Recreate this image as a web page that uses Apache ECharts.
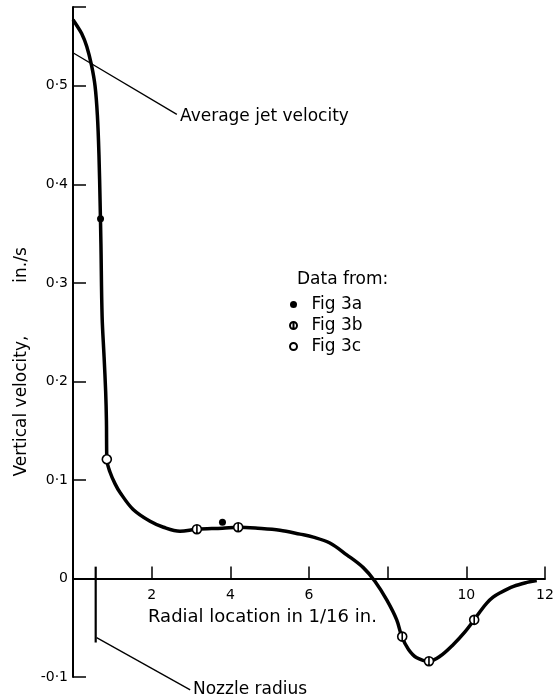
<!DOCTYPE html>
<html>
<head>
<meta charset="utf-8">
<script src="https://cdn.jsdelivr.net/npm/echarts@6/dist/echarts.min.js"></script>
<style>
  html, body { margin: 0; padding: 0; background: #fff; }
  #chart { width: 559px; height: 700px; }
</style>
</head>
<body>
<div id="chart"></div>
<script>
// ---- data ----
// fitted velocity profile (radial location in 1/16 in., vertical velocity in./s)
const curveX = [0.00, 0.10, 0.22, 0.35, 0.47, 0.56, 0.62, 0.66, 0.69, 0.71, 0.74, 0.79, 0.83, 0.85, 0.86,
                0.94, 1.07, 1.20, 1.53, 1.96, 2.30, 2.72, 3.15, 3.80, 4.20, 4.70, 5.26, 5.77, 6.11, 6.53,
                6.96, 7.38, 7.68, 7.98, 8.23, 8.36, 8.53, 8.74, 9.05, 9.33, 9.67, 9.97, 10.20,
                10.36, 10.52, 10.68, 10.86, 11.20, 11.54, 11.79];
const curveY = [0.567, 0.561, 0.553, 0.540, 0.521, 0.500, 0.470, 0.430, 0.380, 0.340, 0.266, 0.225, 0.190, 0.160, 0.121,
                0.108, 0.096, 0.087, 0.070, 0.058, 0.052, 0.048, 0.050, 0.051, 0.052, 0.051, 0.049, 0.045, 0.042, 0.036,
                0.024, 0.011, -0.003, -0.022, -0.042, -0.059, -0.072, -0.0805, -0.084, -0.079, -0.067, -0.054, -0.042,
                -0.033, -0.025, -0.019, -0.0145, -0.008, -0.004, -0.002];
// measured points
const fig3aX = [0.70, 3.80];
const fig3aY = [0.365, 0.057];
const fig3bX = [3.15, 4.20, 8.37, 9.05, 10.20];
const fig3bY = [0.050, 0.052, -0.059, -0.084, -0.042];
const fig3cX = [0.86];
const fig3cY = [0.121];
// annotation lines (data units)
const avgJetLeaderX = [0.02, 2.64];
const avgJetLeaderY = [0.533, 0.471];
const nozzleX = [0.577, 0.577];
const nozzleY = [0.012, -0.065];
const nozzleLeaderX = [0.60, 2.98];
const nozzleLeaderY = [-0.060, -0.113];
// axis ticks
const xTicks = [0, 2, 4, 6, 8, 10, 12];
const xTickLabels = ['', '2', '4', '6', '', '10', '12'];
const yTicks = [-0.1, 0, 0.1, 0.2, 0.3, 0.4, 0.5];
const yTickLabels = ['-0·1', '0', '0·1', '0·2', '0·3', '0·4', '0·5'];
const legendNames = ['Fig 3a', 'Fig 3b', 'Fig 3c'];
const yMin = -0.1, yMax = 0.58;

// ---- build ----
const zip = (xs, ys) => xs.map((x, i) => [x, ys[i]]);
const FONT = 'DejaVu Sans';
const phiPath = 'path://M0,-10A10,10,0,1,1,0,10A10,10,0,1,1,0,-10ZM0,-10L0,10';

function yLabel(v) {
  for (let i = 0; i < yTicks.length; i++) if (Math.abs(yTicks[i] - v) < 1e-6) return yTickLabels[i];
  return '';
}
function xLabel(v) {
  for (let i = 0; i < xTicks.length; i++) if (Math.abs(xTicks[i] - v) < 1e-6) return xTickLabels[i];
  return '';
}

const gridTop = 7, gridBottom = 23, H = 700;
const gridH = H - gridTop - gridBottom;
// move the x axis (line, ticks and labels) up to the zero line
const xAxisOffset = -gridH * (0 - yMin) / (yMax - yMin);

function label(text, x, y, size, rot, align) {
  return {
    type: 'text', x: x, y: y, rotation: rot || 0, silent: true,
    style: { text: text, font: size + 'px "DejaVu Sans"', fill: '#000',
             align: align || 'left', verticalAlign: 'middle' }
  };
}

const chart = echarts.init(document.getElementById('chart'), null, { renderer: 'canvas' });
const option = {
  animation: false,
  backgroundColor: '#fff',
  textStyle: { fontFamily: FONT, color: '#000' },
  grid: { left: 73, right: 14, top: gridTop, bottom: gridBottom, containLabel: false },
  title: {
    text: 'Data from:', left: 297, top: 271, padding: 0,
    textStyle: { fontFamily: FONT, fontSize: 17, fontWeight: 'normal', color: '#000' }
  },
  legend: {
    orient: 'vertical', left: 289, top: 294, padding: 0, itemGap: 0,
    itemWidth: 26, itemHeight: 7, symbolKeepAspect: true,
    selectedMode: false,
    data: [
      { name: legendNames[0], icon: 'circle' },
      { name: legendNames[1], icon: phiPath },
      { name: legendNames[2], icon: 'circle' }
    ],
    textStyle: { fontFamily: FONT, fontSize: 17, color: '#000', lineHeight: 21 }
  },
  xAxis: {
    type: 'value', min: 0, max: 12, interval: 2, position: 'bottom', offset: xAxisOffset,
    axisLine: { show: true, onZero: false, lineStyle: { color: '#000', width: 2 } },
    axisTick: { show: true, inside: true, length: 12, lineStyle: { color: '#000', width: 1.5 } },
    axisLabel: { formatter: xLabel, fontFamily: FONT, fontSize: 14, color: '#000', margin: 10 },
    splitLine: { show: false }
  },
  yAxis: {
    type: 'value', min: yMin, max: yMax, interval: 0.1,
    axisLine: { show: true, onZero: false, lineStyle: { color: '#000', width: 2 } },
    axisTick: { show: true, inside: true, length: 13, lineStyle: { color: '#000', width: 1.5 } },
    axisLabel: { formatter: yLabel, fontFamily: FONT, fontSize: 14, color: '#000', margin: 5 },
    splitLine: { show: false }
  },
  series: [
    {
      name: 'profile', type: 'line', data: zip(curveX, curveY),
      smooth: 0.35, symbol: 'none', clip: false, silent: true,
      lineStyle: { color: '#000', width: 3.5 }, z: 3
    },
    {
      name: 'avgLeader', type: 'line', data: zip(avgJetLeaderX, avgJetLeaderY),
      symbol: 'none', clip: false, silent: true,
      lineStyle: { color: '#000', width: 1.3 }, z: 2
    },
    {
      name: 'nozzle', type: 'line', data: zip(nozzleX, nozzleY),
      symbol: 'none', clip: false, silent: true,
      lineStyle: { color: '#000', width: 2.2 }, z: 2
    },
    {
      name: 'nozzleLeader', type: 'line', data: zip(nozzleLeaderX, nozzleLeaderY),
      symbol: 'none', clip: false, silent: true,
      lineStyle: { color: '#000', width: 1.3 }, z: 2
    },
    {
      name: legendNames[0], type: 'scatter', data: zip(fig3aX, fig3aY),
      symbol: 'circle', symbolSize: 7, z: 5,
      itemStyle: { color: '#000', opacity: 1 }
    },
    {
      name: legendNames[1], type: 'scatter', data: zip(fig3bX, fig3bY),
      symbol: phiPath, symbolSize: 9, z: 5,
      itemStyle: { color: '#fff', borderColor: '#000', borderWidth: 1.6, opacity: 1 }
    },
    {
      name: legendNames[2], type: 'scatter', data: zip(fig3cX, fig3cY),
      symbol: 'circle', symbolSize: 9, z: 5,
      itemStyle: { color: '#fff', borderColor: '#000', borderWidth: 1.6, opacity: 1 }
    }
  ],
  graphic: [
    label('Average jet velocity', 180, 117, 17),
    label('Nozzle radius', 193, 690, 17),
    label('Radial location in 1/16 in.', 148, 617, 18),
    label('Vertical velocity,', 22, 406, 17, Math.PI / 2, 'center'),
    label('in./s', 22, 265, 17, Math.PI / 2, 'center')
  ]
};
chart.setOption(option);
</script>
</body>
</html>
